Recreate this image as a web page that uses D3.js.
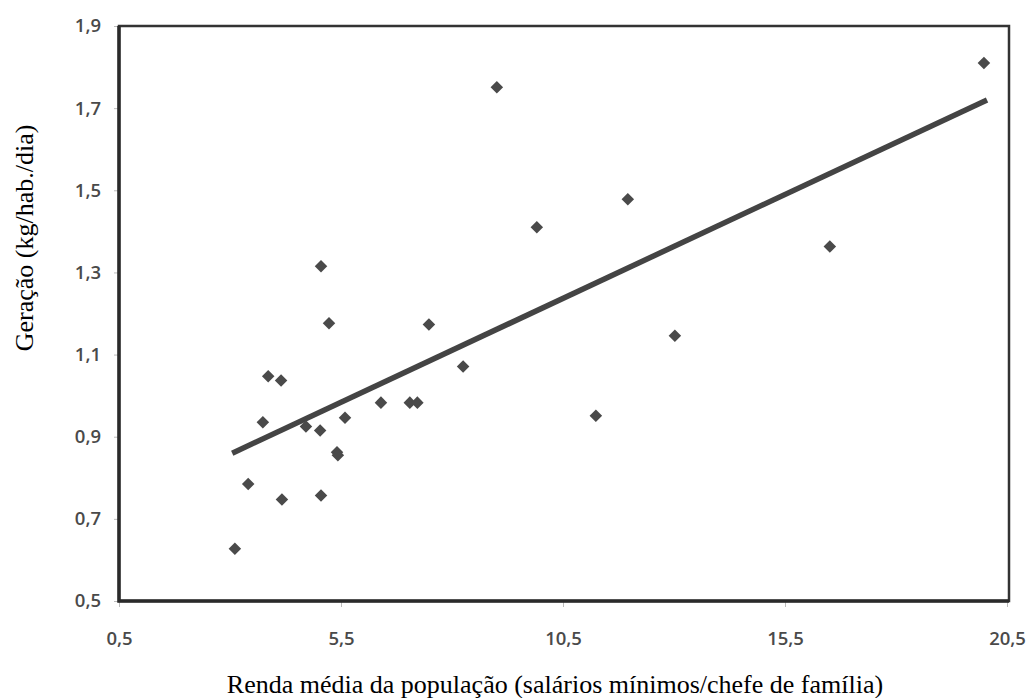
<!DOCTYPE html>
<html>
<head>
<meta charset="utf-8">
<script src="https://cdn.jsdelivr.net/npm/d3@7"></script>
<style>
  body { margin: 0; background: #fff; }
  svg { display: block; }
</style>
</head>
<body>
<script>
// Renda média (x) vs Geração (y)
const rendaX = [3.11, 3.41, 3.74, 3.86, 4.15, 4.17, 4.71, 5.05, 5.03, 5.05, 5.23, 5.41, 5.43,
                5.59, 6.40, 7.05, 7.22, 7.48, 8.25, 9.01, 9.91, 11.24, 11.96, 13.02, 16.51, 19.98];
const geracaoY = [0.627, 0.785, 0.935, 1.047, 1.037, 0.747, 0.925, 1.315, 0.915, 0.757, 1.176, 0.862, 0.855,
                  0.946, 0.983, 0.983, 0.983, 1.173, 1.071, 1.751, 1.41, 0.951, 1.478, 1.146, 1.363, 1.81];
// linha de tendência (extremos)
const trendX = [3.05, 20.05];
const trendY = [0.86, 1.72];
const xTicks = [0.5, 5.5, 10.5, 15.5, 20.5];
const yTicks = [0.5, 0.7, 0.9, 1.1, 1.3, 1.5, 1.7, 1.9];

const W = 1031, H = 698;
const margin = {top: 26, right: 22, bottom: 97, left: 119};
const width = W - margin.left - margin.right,
      height = H - margin.top - margin.bottom;

const svg = d3.select('body').append('svg')
    .attr('width', W)
    .attr('height', H);
const g = svg.append('g')
    .attr('transform', 'translate(' + margin.left + ',' + margin.top + ')');

const x = d3.scaleLinear().domain([0.5, 20.5]).range([0, 888]);
const y = d3.scaleLinear().domain([0.5, 1.9]).range([height, 0]);

const fmt = d => d3.format('.1f')(d).replace('.', ',');

// axes
const xAxis = g.append('g')
  .attr('transform', 'translate(0,' + height + ')')
  .call(d3.axisBottom(x).tickValues(xTicks).tickFormat(fmt).tickSize(6).tickPadding(25));
const yAxis = g.append('g')
  .call(d3.axisLeft(y).tickValues(yTicks).tickFormat(fmt).tickSize(5).tickPadding(13));
[xAxis, yAxis].forEach(a => {
  a.select('.domain').remove();
  a.selectAll('line').attr('stroke', '#bbb');
  a.selectAll('text')
    .attr('fill', '#4a4a4a')
    .style('font-family', '"Open Sans", "DejaVu Sans", sans-serif')
    .style('font-weight', 600)
    .style('font-size', '18.5px');
});

// frame
g.append('rect')
  .attr('x', 0).attr('y', 0)
  .attr('width', width).attr('height', height)
  .attr('fill', 'none')
  .attr('stroke', '#333')
  .attr('stroke-width', 2.5);
g.append('path')
  .attr('d', 'M0,0V' + height + 'H' + width)
  .attr('fill', 'none')
  .attr('stroke', '#2a2a2a')
  .attr('stroke-width', 3.5);

// trend line
g.append('line')
  .attr('x1', x(trendX[0])).attr('y1', y(trendY[0]))
  .attr('x2', x(trendX[1])).attr('y2', y(trendY[1]))
  .attr('stroke', '#444')
  .attr('stroke-width', 5.5);

// points
const diamond = d3.symbol().type(d3.symbolDiamond2).size(100);
g.selectAll('.pt')
  .data(rendaX.map((v, i) => ({x: v, y: geracaoY[i]})))
  .enter()
  .append('path')
    .attr('class', 'pt')
    .attr('d', diamond)
    .attr('transform', d => 'translate(' + x(d.x) + ',' + y(d.y) + ')')
    .attr('fill', '#4a4a4a');

// titles
svg.append('text')
  .attr('x', 555).attr('y', 693)
  .attr('text-anchor', 'middle')
  .style('font-family', '"Liberation Serif", "Times New Roman", serif')
  .style('font-size', '26px')
  .text('Renda média da população (salários mínimos/chefe de família)');
svg.append('text')
  .attr('transform', 'translate(33,238) rotate(-90)')
  .attr('text-anchor', 'middle')
  .style('font-family', '"Liberation Serif", "Times New Roman", serif')
  .style('font-size', '26px')
  .text('Geração (kg/hab./dia)');
</script>
</body>
</html>
